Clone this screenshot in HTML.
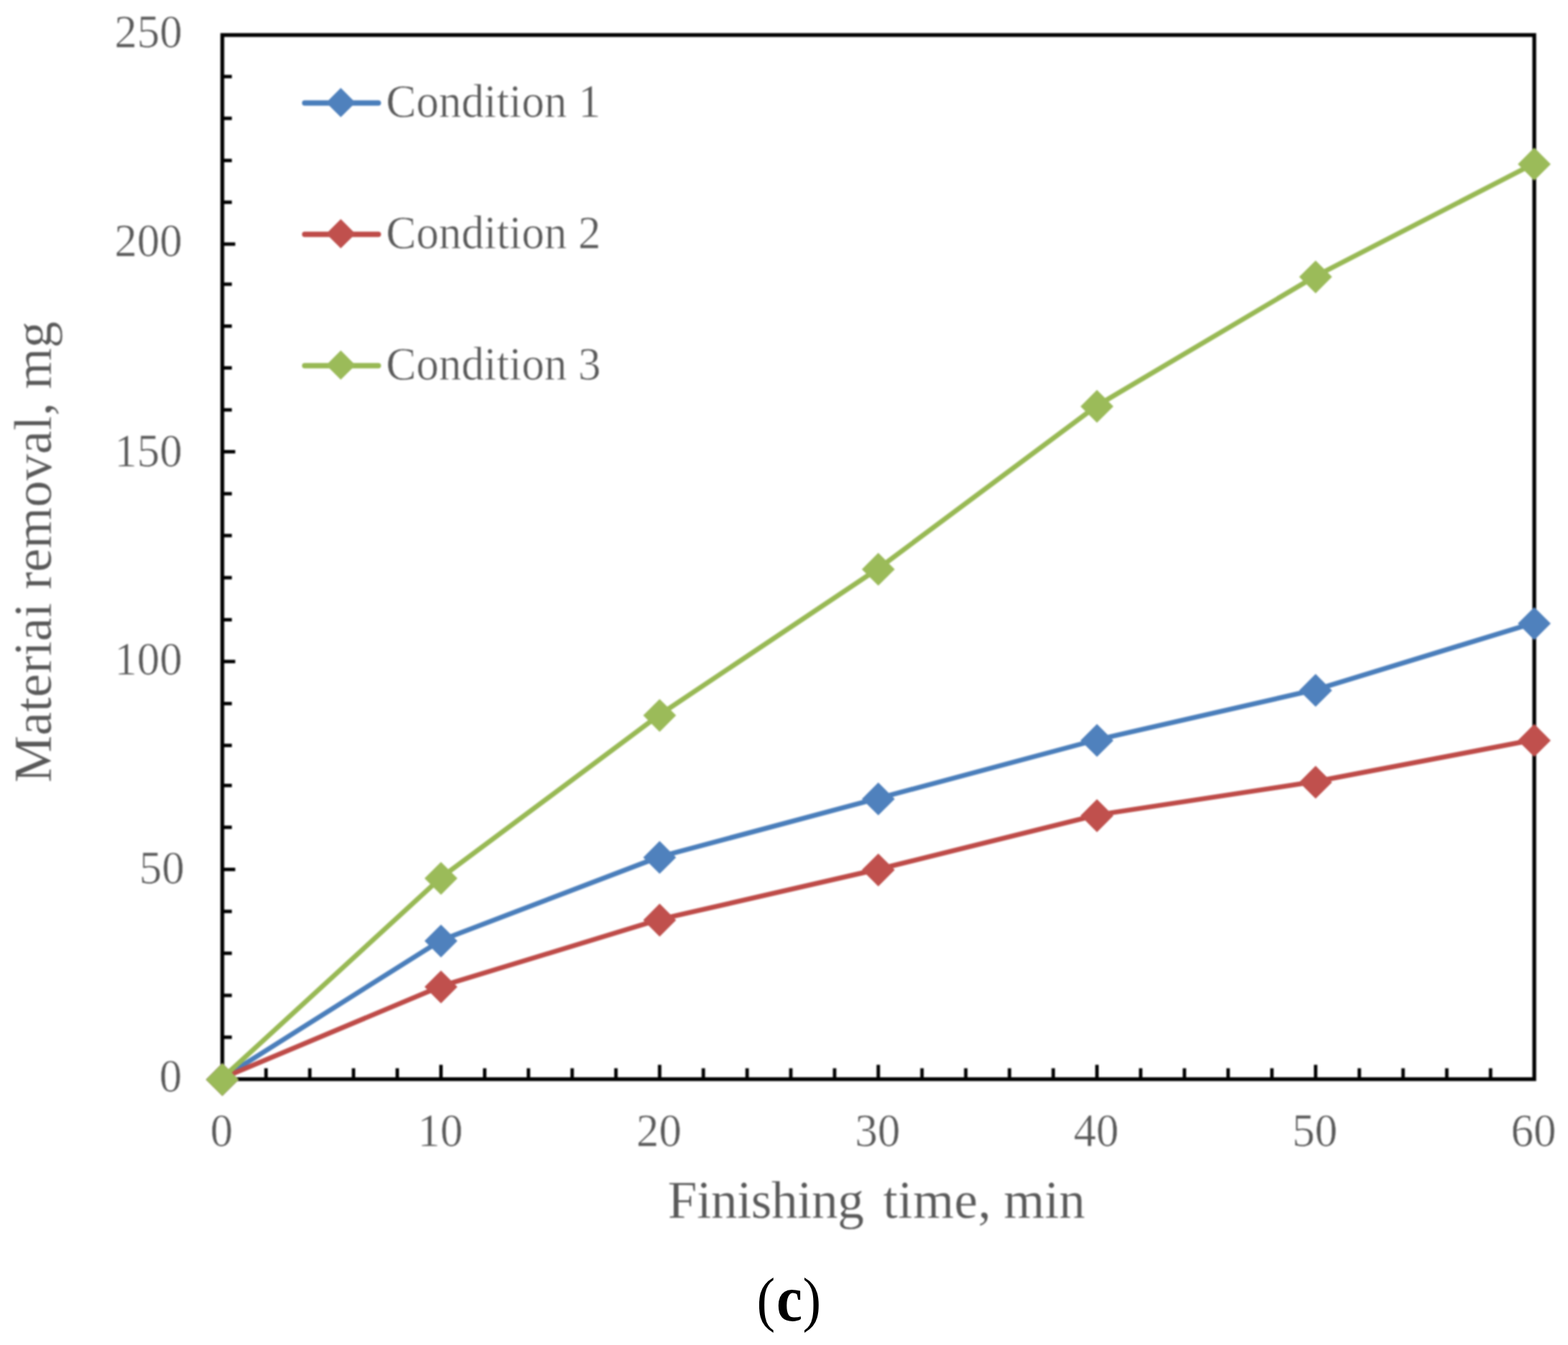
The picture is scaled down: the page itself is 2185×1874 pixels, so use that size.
<!DOCTYPE html>
<html lang="en">
<head>
<meta charset="utf-8">
<title>Material removal versus finishing time</title>
<style>
html,body{margin:0;padding:0;background:#fff;}
body{width:2185px;height:1874px;overflow:hidden;position:relative;}
svg{display:block;position:absolute;left:0;top:0;}
#chart{filter:blur(0.8px);}
text{font-family:"Liberation Serif","Times New Roman",Times,serif;}
.tick,.leg{font-size:63px;fill:#595959;stroke:#fff;stroke-width:0.6;}
.title{font-size:73.5px;fill:#595959;stroke:#fff;stroke-width:0.3;}
.cap{fill:#000;}
.axis{stroke:#000;stroke-width:5.3;fill:none;}
</style>
</head>
<body>
<svg id="chart" width="2185" height="1874" viewBox="0 0 2185 1874">
<rect x="0" y="0" width="2185" height="1874" fill="#ffffff"/>
<g class="axis">
<rect x="309.8" y="48.8" width="1828.2" height="1454.8"/>
<line x1="309.8" y1="1445.2" x2="323.1" y2="1445.2" stroke-width="4.8"/>
<line x1="309.8" y1="1386.9" x2="323.1" y2="1386.9" stroke-width="4.8"/>
<line x1="309.8" y1="1328.2" x2="323.1" y2="1328.2" stroke-width="4.8"/>
<line x1="309.8" y1="1269.9" x2="323.1" y2="1269.9" stroke-width="4.8"/>
<line x1="309.8" y1="1211.4" x2="327.8" y2="1211.4" stroke-width="4.8"/>
<line x1="309.8" y1="1152.7" x2="323.1" y2="1152.7" stroke-width="4.8"/>
<line x1="309.8" y1="1094.4" x2="323.1" y2="1094.4" stroke-width="4.8"/>
<line x1="309.8" y1="1038.6" x2="323.1" y2="1038.6" stroke-width="4.8"/>
<line x1="309.8" y1="980.3" x2="323.1" y2="980.3" stroke-width="4.8"/>
<line x1="309.8" y1="921.7" x2="327.8" y2="921.7" stroke-width="4.8"/>
<line x1="309.8" y1="863.5" x2="323.1" y2="863.5" stroke-width="4.8"/>
<line x1="309.8" y1="804.9" x2="323.1" y2="804.9" stroke-width="4.8"/>
<line x1="309.8" y1="746.2" x2="323.1" y2="746.2" stroke-width="4.8"/>
<line x1="309.8" y1="687.9" x2="323.1" y2="687.9" stroke-width="4.8"/>
<line x1="309.8" y1="629.4" x2="327.8" y2="629.4" stroke-width="4.8"/>
<line x1="309.8" y1="571.1" x2="323.1" y2="571.1" stroke-width="4.8"/>
<line x1="309.8" y1="512.6" x2="323.1" y2="512.6" stroke-width="4.8"/>
<line x1="309.8" y1="454.4" x2="323.1" y2="454.4" stroke-width="4.8"/>
<line x1="309.8" y1="396.0" x2="323.1" y2="396.0" stroke-width="4.8"/>
<line x1="309.8" y1="340.1" x2="327.8" y2="340.1" stroke-width="4.8"/>
<line x1="309.8" y1="281.8" x2="323.1" y2="281.8" stroke-width="4.8"/>
<line x1="309.8" y1="223.6" x2="323.1" y2="223.6" stroke-width="4.8"/>
<line x1="309.8" y1="164.9" x2="323.1" y2="164.9" stroke-width="4.8"/>
<line x1="309.8" y1="106.7" x2="323.1" y2="106.7" stroke-width="4.8"/>
<line x1="370.7" y1="1503.6" x2="370.7" y2="1488.4" stroke-width="4.8"/>
<line x1="431.7" y1="1503.6" x2="431.7" y2="1488.4" stroke-width="4.8"/>
<line x1="492.6" y1="1503.6" x2="492.6" y2="1488.4" stroke-width="4.8"/>
<line x1="553.6" y1="1503.6" x2="553.6" y2="1488.4" stroke-width="4.8"/>
<line x1="614.5" y1="1503.6" x2="614.5" y2="1483.6" stroke-width="4.8"/>
<line x1="675.4" y1="1503.6" x2="675.4" y2="1488.4" stroke-width="4.8"/>
<line x1="736.4" y1="1503.6" x2="736.4" y2="1488.4" stroke-width="4.8"/>
<line x1="797.3" y1="1503.6" x2="797.3" y2="1488.4" stroke-width="4.8"/>
<line x1="858.3" y1="1503.6" x2="858.3" y2="1488.4" stroke-width="4.8"/>
<line x1="919.2" y1="1503.6" x2="919.2" y2="1483.6" stroke-width="4.8"/>
<line x1="980.1" y1="1503.6" x2="980.1" y2="1488.4" stroke-width="4.8"/>
<line x1="1041.1" y1="1503.6" x2="1041.1" y2="1488.4" stroke-width="4.8"/>
<line x1="1102.0" y1="1503.6" x2="1102.0" y2="1488.4" stroke-width="4.8"/>
<line x1="1163.0" y1="1503.6" x2="1163.0" y2="1488.4" stroke-width="4.8"/>
<line x1="1223.9" y1="1503.6" x2="1223.9" y2="1483.6" stroke-width="4.8"/>
<line x1="1284.8" y1="1503.6" x2="1284.8" y2="1488.4" stroke-width="4.8"/>
<line x1="1345.8" y1="1503.6" x2="1345.8" y2="1488.4" stroke-width="4.8"/>
<line x1="1406.7" y1="1503.6" x2="1406.7" y2="1488.4" stroke-width="4.8"/>
<line x1="1467.7" y1="1503.6" x2="1467.7" y2="1488.4" stroke-width="4.8"/>
<line x1="1528.6" y1="1503.6" x2="1528.6" y2="1483.6" stroke-width="4.8"/>
<line x1="1589.5" y1="1503.6" x2="1589.5" y2="1488.4" stroke-width="4.8"/>
<line x1="1650.5" y1="1503.6" x2="1650.5" y2="1488.4" stroke-width="4.8"/>
<line x1="1711.4" y1="1503.6" x2="1711.4" y2="1488.4" stroke-width="4.8"/>
<line x1="1772.4" y1="1503.6" x2="1772.4" y2="1488.4" stroke-width="4.8"/>
<line x1="1833.3" y1="1503.6" x2="1833.3" y2="1483.6" stroke-width="4.8"/>
<line x1="1894.2" y1="1503.6" x2="1894.2" y2="1488.4" stroke-width="4.8"/>
<line x1="1955.2" y1="1503.6" x2="1955.2" y2="1488.4" stroke-width="4.8"/>
<line x1="2016.1" y1="1503.6" x2="2016.1" y2="1488.4" stroke-width="4.8"/>
<line x1="2077.1" y1="1503.6" x2="2077.1" y2="1488.4" stroke-width="4.8"/>
</g>
<text class="tick" text-anchor="end" transform="translate(254.0 66.0) scale(1 1.03)">250</text>
<text class="tick" text-anchor="end" transform="translate(254.0 357.0) scale(1 1.03)">200</text>
<text class="tick" text-anchor="end" transform="translate(254.0 649.5) scale(1 1.03)">150</text>
<text class="tick" text-anchor="end" transform="translate(254.0 939.5) scale(1 1.03)">100</text>
<text class="tick" text-anchor="end" transform="translate(257.0 1231.4) scale(1 1.03)">50</text>
<text class="tick" text-anchor="end" transform="translate(253.6 1521.3) scale(1 1.03)">0</text>
<text class="tick" text-anchor="middle" transform="translate(308.8 1597.2) scale(1 1.03)">0</text>
<text class="tick" text-anchor="middle" transform="translate(613.5 1597.2) scale(1 1.03)">10</text>
<text class="tick" text-anchor="middle" transform="translate(918.2 1597.2) scale(1 1.03)">20</text>
<text class="tick" text-anchor="middle" transform="translate(1222.9 1597.2) scale(1 1.03)">30</text>
<text class="tick" text-anchor="middle" transform="translate(1527.6 1597.2) scale(1 1.03)">40</text>
<text class="tick" text-anchor="middle" transform="translate(1832.3 1597.2) scale(1 1.03)">50</text>
<text class="tick" text-anchor="middle" transform="translate(2137.0 1597.2) scale(1 1.03)">60</text>
<text class="title" y="1697"><tspan x="930.6" letter-spacing="-0.55">Finishing</tspan> <tspan x="1230.4" letter-spacing="0.45">time,</tspan> <tspan x="1398.6" letter-spacing="-0.3">min</tspan></text>
<text class="title" text-anchor="middle" transform="translate(70.7 769.2) rotate(-90) scale(1.006 1)">Materiai removal, mg</text>
<g fill="#4F81BD">
<polyline points="309.8,1502.1 614.5,1310.1 919.2,1193.7 1223.9,1112.2 1528.6,1030.7 1833.3,960.9 2138.0,867.8" fill="none" stroke="#4A7EBB" stroke-width="6.8" stroke-linejoin="round" stroke-linecap="round"/>
<path d="M309.8 1481.3L332.7 1504.2L309.8 1527.1L286.9 1504.2Z"/>
<path d="M614.5 1288.2L637.4 1311.1L614.5 1334.0L591.6 1311.1Z"/>
<path d="M919.2 1171.8L942.1 1194.7L919.2 1217.6L896.3 1194.7Z"/>
<path d="M1223.9 1090.3L1246.8 1113.2L1223.9 1136.1L1201.0 1113.2Z"/>
<path d="M1528.6 1008.8L1551.5 1031.7L1528.6 1054.6L1505.7 1031.7Z"/>
<path d="M1833.3 939.0L1856.2 961.9L1833.3 984.8L1810.4 961.9Z"/>
<path d="M2138.0 845.9L2160.9 868.8L2138.0 891.7L2115.1 868.8Z"/>
</g>
<g fill="#C0504D">
<polyline points="309.8,1502.1 614.5,1374.1 919.2,1281.0 1223.9,1211.1 1528.6,1135.5 1833.3,1088.9 2138.0,1030.7" fill="none" stroke="#BE4B48" stroke-width="6.8" stroke-linejoin="round" stroke-linecap="round"/>
<path d="M309.8 1481.3L332.7 1504.2L309.8 1527.1L286.9 1504.2Z"/>
<path d="M614.5 1352.2L637.4 1375.1L614.5 1398.0L591.6 1375.1Z"/>
<path d="M919.2 1259.1L942.1 1282.0L919.2 1304.9L896.3 1282.0Z"/>
<path d="M1223.9 1189.2L1246.8 1212.1L1223.9 1235.0L1201.0 1212.1Z"/>
<path d="M1528.6 1113.6L1551.5 1136.5L1528.6 1159.4L1505.7 1136.5Z"/>
<path d="M1833.3 1067.0L1856.2 1089.9L1833.3 1112.8L1810.4 1089.9Z"/>
<path d="M2138.0 1008.8L2160.9 1031.7L2138.0 1054.6L2115.1 1031.7Z"/>
</g>
<g fill="#9BBB59">
<polyline points="309.8,1502.1 614.5,1222.8 919.2,995.8 1223.9,792.2 1528.6,565.2 1833.3,384.8 2138.0,227.7" fill="none" stroke="#98B954" stroke-width="6.8" stroke-linejoin="round" stroke-linecap="round"/>
<path d="M309.8 1481.3L332.7 1504.2L309.8 1527.1L286.9 1504.2Z"/>
<path d="M614.5 1200.9L637.4 1223.8L614.5 1246.7L591.6 1223.8Z"/>
<path d="M919.2 973.9L942.1 996.8L919.2 1019.7L896.3 996.8Z"/>
<path d="M1223.9 770.3L1246.8 793.2L1223.9 816.1L1201.0 793.2Z"/>
<path d="M1528.6 543.3L1551.5 566.2L1528.6 589.1L1505.7 566.2Z"/>
<path d="M1833.3 362.9L1856.2 385.8L1833.3 408.7L1810.4 385.8Z"/>
<path d="M2138.0 205.8L2160.9 228.7L2138.0 251.6L2115.1 228.7Z"/>
</g>
<g fill="#4F81BD">
<line x1="424.6" y1="143.6" x2="527.2" y2="143.6" stroke="#4A7EBB" stroke-width="7.5" stroke-linecap="round"/>
<path d="M474.9 122.5L495.3 142.9L474.9 163.3L454.5 142.9Z"/>
</g>
<text class="leg" transform="translate(538 163.2) scale(1 1.03)">Condition 1</text>
<g fill="#C0504D">
<line x1="424.6" y1="326.4" x2="527.2" y2="326.4" stroke="#BE4B48" stroke-width="7.5" stroke-linecap="round"/>
<path d="M474.9 305.3L495.3 325.7L474.9 346.1L454.5 325.7Z"/>
</g>
<text class="leg" transform="translate(538 346.0) scale(1 1.03)">Condition 2</text>
<g fill="#9BBB59">
<line x1="424.6" y1="509.4" x2="527.2" y2="509.4" stroke="#98B954" stroke-width="7.5" stroke-linecap="round"/>
<path d="M474.9 488.3L495.3 508.7L474.9 529.1L454.5 508.7Z"/>
</g>
<text class="leg" transform="translate(538 529.0) scale(1 1.03)">Condition 3</text>
</svg>
<svg id="caption" width="2185" height="1874" viewBox="0 0 2185 1874">
<text class="cap" transform="translate(1054.6 1840) scale(0.9 1)" font-size="85.6"><tspan dy="-1.1">(</tspan><tspan font-weight="bold" font-size="90" dx="2" dy="1.1">c</tspan><tspan dx="0.5" dy="-1.1">)</tspan></text>
</svg>
</body>
</html>
